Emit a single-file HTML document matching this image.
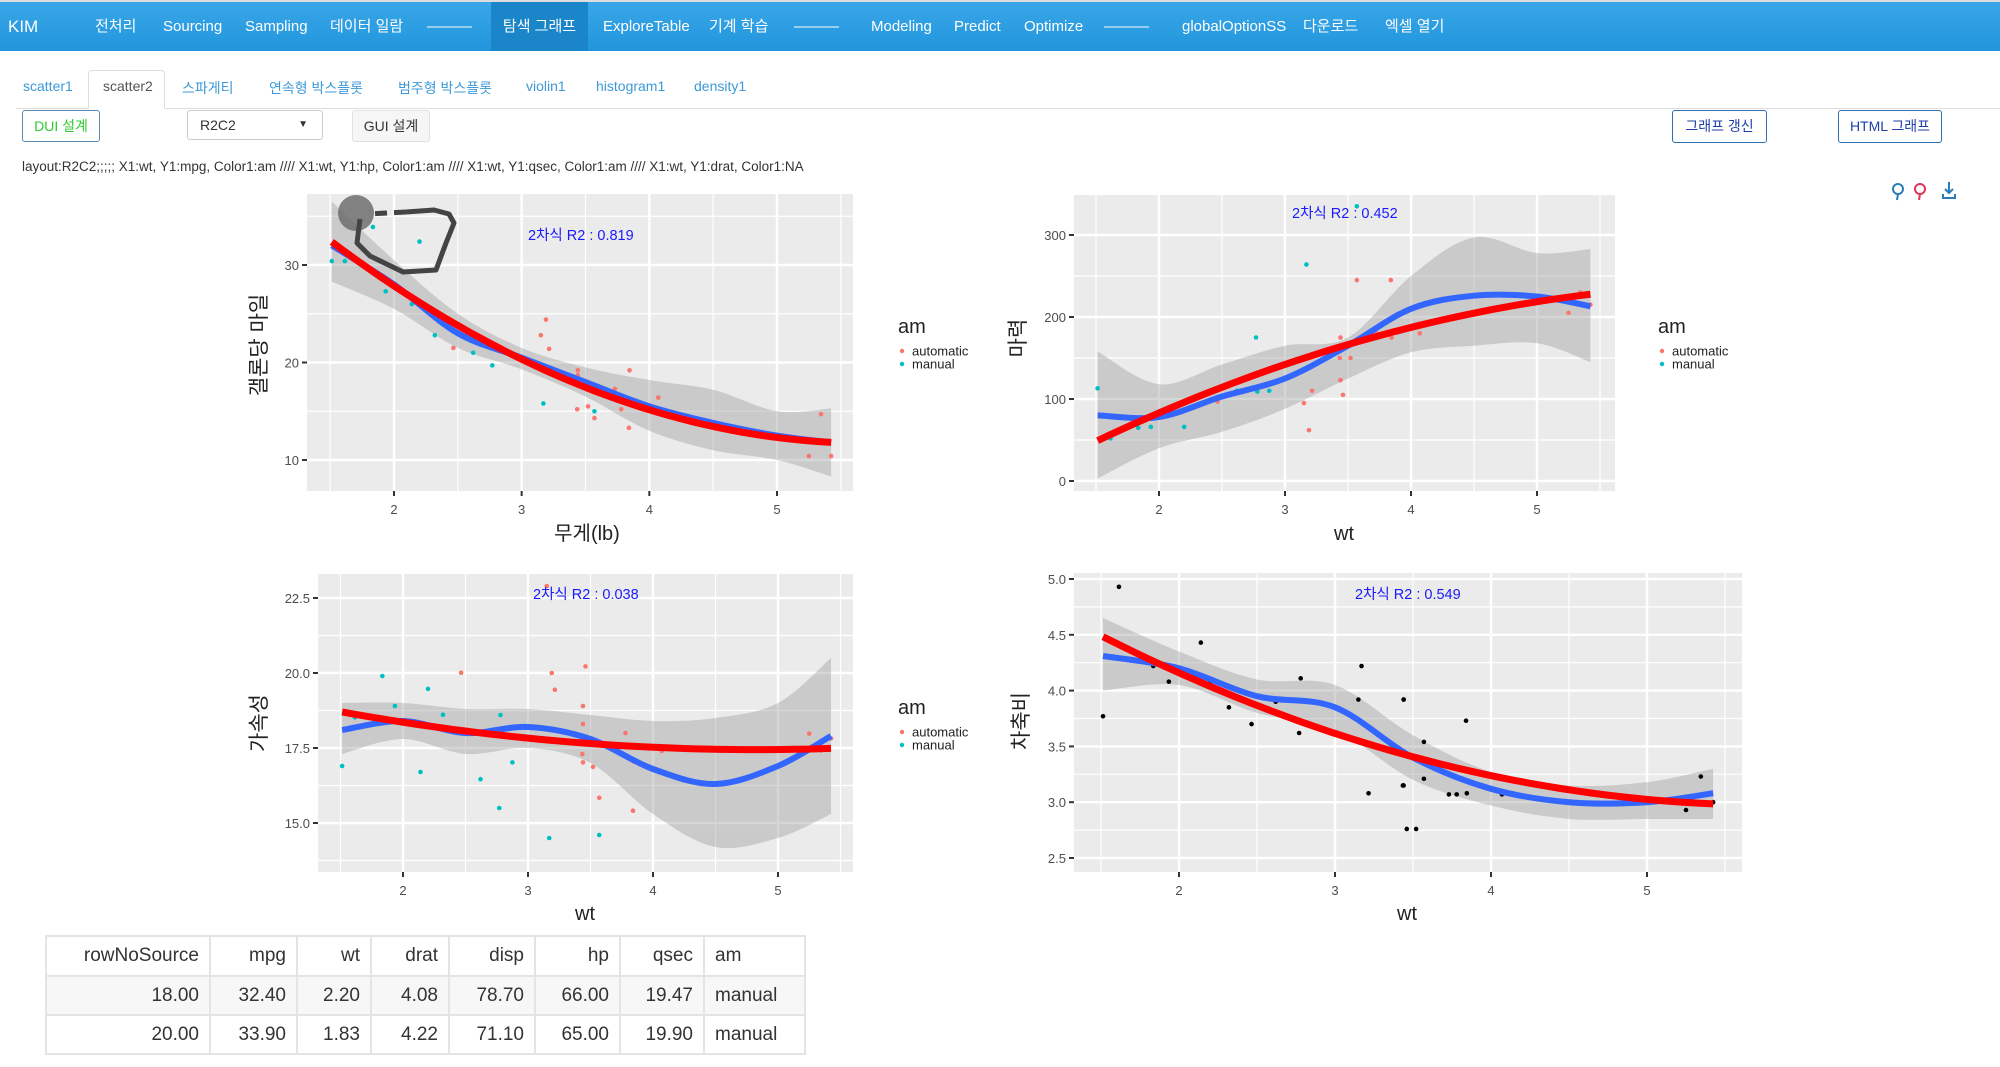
<!DOCTYPE html>
<html><head><meta charset="utf-8">
<style>
body{margin:0;width:2000px;height:1067px;overflow:hidden;background:#fff;font-family:"Liberation Sans","Noto Sans CJK KR",sans-serif;position:relative}
.abs{position:absolute}
#nav{left:0;top:0;width:2000px;height:51px;background:linear-gradient(#3aa6e8,#2196dc);border-top:2px solid #ddd;box-sizing:border-box}
.ni{position:absolute;top:0;height:49px;line-height:49px;color:#fff;font-size:15px;white-space:nowrap}
.tab{position:absolute;top:78px;font-size:14px;color:#3c9ad8;white-space:nowrap}
.btn{position:absolute;box-sizing:border-box;border:1px solid #ccc;border-radius:3px;background:#fff;font-size:14px;text-align:center}
table{border-collapse:collapse;font-size:19px;color:#333;table-layout:fixed;width:759px}
td,th{border:2px solid #e4e4e4;padding:0 10px;height:39px;font-weight:normal;text-align:right;box-sizing:border-box}
</style></head><body>
<div id="nav" class="abs">
<span class="ni" style="left:8px;font-size:17px">KIM</span>
<span class="ni" style="left:95px">전처리</span>
<span class="ni" style="left:163px">Sourcing</span>
<span class="ni" style="left:245px">Sampling</span>
<span class="ni" style="left:330px">데이터 일람</span>
<span class="ni" style="left:427px">———</span>
<span class="ni" style="left:491px;width:97px;background:#1a86c9;text-align:center">탐색 그래프</span>
<span class="ni" style="left:603px">ExploreTable</span>
<span class="ni" style="left:709px">기계 학습</span>
<span class="ni" style="left:794px">———</span>
<span class="ni" style="left:871px">Modeling</span>
<span class="ni" style="left:954px">Predict</span>
<span class="ni" style="left:1024px">Optimize</span>
<span class="ni" style="left:1104px">———</span>
<span class="ni" style="left:1182px">globalOptionSS</span>
<span class="ni" style="left:1303px">다운로드</span>
<span class="ni" style="left:1385px">엑셀 열기</span>
</div>
<div class="abs" style="left:16px;top:108px;width:1984px;border-top:1px solid #ddd"></div>
<div class="abs" style="left:88px;top:70px;width:77px;height:39px;border:1px solid #ddd;border-bottom:1px solid #fff;border-radius:4px 4px 0 0;background:#fff;box-sizing:border-box"></div>
<span class="tab" style="left:23px">scatter1</span>
<span class="tab" style="left:103px;color:#555">scatter2</span>
<span class="tab" style="left:182px">스파게티</span>
<span class="tab" style="left:269px">연속형 박스플롯</span>
<span class="tab" style="left:398px">범주형 박스플롯</span>
<span class="tab" style="left:526px">violin1</span>
<span class="tab" style="left:596px">histogram1</span>
<span class="tab" style="left:694px">density1</span>
<div class="btn" style="left:22px;top:110px;width:78px;height:32px;line-height:30px;color:#2ecc2e;border-color:#5b8ab5">DUI 설계</div>
<div class="btn" style="left:187px;top:110px;width:136px;height:30px;line-height:28px;text-align:left;padding-left:12px;color:#333">R2C2<span style="position:absolute;right:14px;font-size:10px">▼</span></div>
<div class="btn" style="left:352px;top:110px;width:78px;height:32px;line-height:30px;color:#333;background:#f6f6f6;border-color:#e2e2e2">GUI 설계</div>
<div class="btn" style="left:1672px;top:110px;width:95px;height:33px;line-height:31px;color:#1f3fa8;border-color:#2d6fb0">그래프 갱신</div>
<div class="btn" style="left:1838px;top:110px;width:104px;height:33px;line-height:31px;color:#1f3fa8;border-color:#2d6fb0">HTML 그래프</div>
<div class="abs" style="left:22px;top:159px;font-size:13.5px;color:#333;white-space:nowrap">layout:R2C2;;;;; X1:wt, Y1:mpg, Color1:am //// X1:wt, Y1:hp, Color1:am //// X1:wt, Y1:qsec, Color1:am //// X1:wt, Y1:drat, Color1:NA</div>
<svg class="abs" style="left:1888px;top:180px" width="80" height="24">
<g fill="none" stroke="#2a7db8" stroke-width="2"><circle cx="10" cy="9" r="5"/><line x1="10" y1="14" x2="9" y2="20"/></g>
<g fill="none" stroke="#e0365a" stroke-width="2"><circle cx="32" cy="9" r="5"/><line x1="32" y1="14" x2="31" y2="20"/></g>
<g fill="none" stroke="#2a7db8" stroke-width="2"><line x1="61" y1="2" x2="61" y2="13"/><polyline points="57,9 61,13 65,9"/><polyline points="55,14 55,18 67,18 67,14"/></g>
</svg>
<svg id="charts" class="abs" style="left:0;top:0" width="2000" height="1067"></svg>
<table class="abs" style="left:45px;top:935px">
<colgroup><col style="width:164px"><col style="width:87px"><col style="width:74px"><col style="width:78px"><col style="width:86px"><col style="width:85px"><col style="width:84px"><col style="width:101px"></colgroup>
<tr style="height:40px"><th>rowNoSource</th><th>mpg</th><th>wt</th><th>drat</th><th>disp</th><th>hp</th><th>qsec</th><th style="text-align:left">am</th></tr>
<tr style="background:#f7f7f7"><td>18.00</td><td>32.40</td><td>2.20</td><td>4.08</td><td>78.70</td><td>66.00</td><td>19.47</td><td style="text-align:left">manual</td></tr>
<tr><td>20.00</td><td>33.90</td><td>1.83</td><td>4.22</td><td>71.10</td><td>65.00</td><td>19.90</td><td style="text-align:left">manual</td></tr>
</table>
<script>
const wt=[2.62,2.875,2.32,3.215,3.44,3.46,3.57,3.19,3.15,3.44,3.44,4.07,3.73,3.78,5.25,5.424,5.345,2.2,1.615,1.835,2.465,3.52,3.435,3.84,3.845,1.935,2.14,1.513,3.17,2.77,3.57,2.78];
const mpg=[21,21,22.8,21.4,18.7,18.1,14.3,24.4,22.8,19.2,17.8,16.4,17.3,15.2,10.4,10.4,14.7,32.4,30.4,33.9,21.5,15.5,15.2,13.3,19.2,27.3,26,30.4,15.8,19.7,15,21.4];
const hp=[110,110,93,110,175,105,245,62,95,123,123,180,180,180,205,215,230,66,52,65,97,150,150,245,175,66,91,113,264,175,335,109];
const qsec=[16.46,17.02,18.61,19.44,17.02,20.22,15.84,20,22.9,18.3,18.9,17.4,17.6,18,17.98,17.82,17.42,19.47,18.52,19.9,20.01,16.87,17.3,15.41,17.05,18.9,16.7,16.9,14.5,15.5,14.6,18.6];
const drat=[3.9,3.9,3.85,3.08,3.15,2.76,3.21,3.69,3.92,3.92,3.92,3.07,3.07,3.07,2.93,3,3.23,4.08,4.93,4.22,3.7,2.76,3.15,3.73,3.08,4.08,4.43,3.77,4.22,3.62,3.54,4.11];
const am=[1,1,1,0,0,0,0,0,0,0,0,0,0,0,0,0,0,1,1,1,0,0,0,0,0,1,1,1,1,1,1,1];
const smoothX=[1.513,2,2.5,3,3.5,4,4.5,5,5.424];
const mpgLoess=[32,28,23,20.5,18,15.5,13.8,12.5,11.8];
const mpgLo=[28.3,25.5,21.5,19.3,16.5,13,11,10,8.3];
const mpgHi=[36.5,30.5,25,21.5,19.5,18.2,17.2,15,15.3];
const hpLoess=[80,78,103,125,165,210,226,225,213];
const hpLo=[3,40,60,88,125,157,165,168,145];
const hpHi=[158,118,142,165,175,250,297,278,283];
const qsecLoess=[18.1,18.4,18.0,18.2,17.8,16.8,16.3,16.9,17.9];
const qsecLo=[17.3,17.8,17.3,17.5,17.0,15.3,14.2,14.5,15.3];
const qsecHi=[19.0,19.0,18.8,18.8,18.6,18.4,18.5,19.0,20.5];
const dratLoess=[4.31,4.2,3.95,3.85,3.4,3.12,3.0,3.0,3.08];
const dratLo=[4.0,4.05,3.8,3.65,3.2,2.97,2.85,2.85,2.85];
const dratHi=[4.65,4.35,4.1,4.05,3.6,3.27,3.15,3.18,3.3];
const xTicks=[2,3,4,5];
const mpgTicks=[10,20,30], hpTicks=[0,100,200,300], qsecTicks=[15,17.5,20,22.5], dratTicks=[2.5,3,3.5,4,4.5,5];
const r2Labels=["2차식 R2 : 0.819","2차식 R2 : 0.452","2차식 R2 : 0.038","2차식 R2 : 0.549"];

const NS="http://www.w3.org/2000/svg";
const svg=document.getElementById('charts');
function el(tag,attrs,parent,text){const e=document.createElementNS(NS,tag);for(const k in attrs)e.setAttribute(k,attrs[k]);if(text!==undefined)e.textContent=text;(parent||svg).appendChild(e);return e;}
function lin(v1,p1,v2,p2){return v=>p1+(v-v1)*(p2-p1)/(v2-v1);}
function catmull(pts){let d='M'+pts[0][0]+','+pts[0][1];for(let i=0;i<pts.length-1;i++){const p0=pts[Math.max(0,i-1)],p1=pts[i],p2=pts[i+1],p3=pts[Math.min(pts.length-1,i+2)];d+=' C'+(p1[0]+(p2[0]-p0[0])/6)+','+(p1[1]+(p2[1]-p0[1])/6)+' '+(p2[0]-(p3[0]-p1[0])/6)+','+(p2[1]-(p3[1]-p1[1])/6)+' '+p2[0]+','+p2[1];}return d;}
function quadFit(x,y){let S=[0,0,0,0,0],T=[0,0,0];for(let i=0;i<x.length;i++){let p=1;for(let k=0;k<5;k++){S[k]+=p;if(k<3)T[k]+=p*y[i];p*=x[i];}}
 const A=[[S[0],S[1],S[2],T[0]],[S[1],S[2],S[3],T[1]],[S[2],S[3],S[4],T[2]]];
 for(let c=0;c<3;c++){for(let r=c+1;r<3;r++){const f=A[r][c]/A[c][c];for(let k=c;k<4;k++)A[r][k]-=f*A[c][k];}}
 const b=[0,0,0];for(let r=2;r>=0;r--){let s=A[r][3];for(let k=r+1;k<3;k++)s-=A[r][k]*b[k];b[r]=s/A[r][r];}return b;}

function panel(c){
 const g=el('g',{});
 
 
 const X=lin(c.xs[0],c.xs[1],c.xs[2],c.xs[3]),Y=lin(c.ys[0],c.ys[1],c.ys[2],c.ys[3]);
 const r=el('rect',{x:c.rect[0],y:c.rect[1],width:c.rect[2]-c.rect[0],height:c.rect[3]-c.rect[1],fill:'#EBEBEB'},g);
 
 const yStep=c.yt[1]-c.yt[0];
 for(let v=c.yt[0]-yStep*2;v<=c.yt[c.yt.length-1]+yStep*2;v+=yStep/2){const p=Y(v);if(p<c.rect[1]||p>c.rect[3])continue;const major=c.yt.some(t=>Math.abs(t-v)<1e-9);el('line',{x1:c.rect[0],x2:c.rect[2],y1:p,y2:p,stroke:'#fff','stroke-width':major?2.4:1.2},g);}
 for(let v=0.5;v<=7;v+=0.5){const p=X(v);if(p<c.rect[0]||p>c.rect[2])continue;const major=Number.isInteger(v);el('line',{y1:c.rect[1],y2:c.rect[3],x1:p,x2:p,stroke:'#fff','stroke-width':major?2.4:1.2},g);}
 xTicks.forEach(t=>{const p=X(t);el('line',{x1:p,x2:p,y1:c.rect[3],y2:c.rect[3]+5,stroke:'#333','stroke-width':2},g);const tl=el('text',{x:p,y:c.rect[3]+23,'text-anchor':'middle','font-size':13,fill:'#4d4d4d'},g,String(t));});
 c.yt.forEach(t=>{const p=Y(t);el('line',{x1:c.rect[0]-5,x2:c.rect[0],y1:p,y2:p,stroke:'#333','stroke-width':2},g);const tl=el('text',{x:c.rect[0]-8,y:p+5,'text-anchor':'end','font-size':13,fill:'#4d4d4d'},g,c.fmt?t.toFixed(1):String(t));});
 const hiPts=smoothX.map((x,i)=>[X(x),Y(c.hi[i])]),loPts=smoothX.map((x,i)=>[X(x),Y(c.lo[i])]).reverse();
 const band=el('path',{d:catmull(hiPts)+' L'+catmull(loPts).slice(1)+' Z',fill:'#999','fill-opacity':0.4},g);
 
 c.y.forEach((v,i)=>{const d=el('circle',{cx:X(wt[i]),cy:Y(v),r:2.3,fill:c.colored?(am[i]?'#00BFC4':'#F8766D'):'#000'},g);});
 const lo=el('path',{d:catmull(smoothX.map((x,i)=>[X(x),Y(c.loess[i])])),fill:'none',stroke:'#3366FF','stroke-width':6},g);
 
 const b=quadFit(wt,c.y);const mn=Math.min(...wt),mx=Math.max(...wt);let pts=[];for(let k=0;k<=40;k++){const x=mn+(mx-mn)*k/40;pts.push([X(x),Y(b[0]+b[1]*x+b[2]*x*x)]);}
 const q=el('polyline',{points:pts.map(p=>p.join(',')).join(' '),fill:'none',stroke:'#FF0000','stroke-width':7},g);
 
 const rt=el('text',{x:c.r2[0],y:c.r2[1],'font-size':14.5,fill:'#1a1aff'},g,c.r2t);
 const xl=el('text',{x:c.xl[0],y:c.xl[1],'text-anchor':'middle','font-size':20,fill:'#222'},g,c.xlab);
 const yl=el('text',{x:c.yl[0],y:c.yl[1],'text-anchor':'middle','font-size':21,fill:'#222',transform:'rotate(-90 '+c.yl[0]+' '+c.yl[1]+')'},g,c.ylab);
 if(c.leg){const lg=el('g',{},g);
  el('text',{x:c.leg[0],y:c.leg[1],'font-size':20,fill:'#222'},lg,'am');
  [['automatic','#F8766D'],['manual','#00BFC4']].forEach((e,i)=>{const y=c.leg[1]+18+i*13;const en=el('g',{},lg);el('circle',{cx:c.leg[0]+4,cy:y,r:2.2,fill:e[1]},en);el('text',{x:c.leg[0]+14,y:y+4.5,'font-size':13,fill:'#222'},en,e[0]);});}
 return g;
}
panel({name:'chart-mpg-vs-wt',rect:[307,194,853,491],xs:[2,394,5,777],ys:[10,460,30,265],yt:mpgTicks,y:mpg,loess:mpgLoess,lo:mpgLo,hi:mpgHi,colored:true,r2:[528,240],r2t:r2Labels[0],xl:[587,540],xlab:'무게(lb)',yl:[266,345],ylab:'갤론당 마일',leg:[898,333]});
panel({name:'chart-hp-vs-wt',rect:[1074,195,1615,491],xs:[2,1159,5,1537],ys:[0,481,300,235],yt:hpTicks,y:hp,loess:hpLoess,lo:hpLo,hi:hpHi,colored:true,r2:[1292,218],r2t:r2Labels[1],xl:[1344,540],xlab:'wt',yl:[1025,338],ylab:'마력',leg:[1658,333]});
panel({name:'chart-qsec-vs-wt',rect:[318,574,853,872],xs:[2,403,5,778],ys:[15,823,22.5,598],yt:qsecTicks,fmt:true,y:qsec,loess:qsecLoess,lo:qsecLo,hi:qsecHi,colored:true,r2:[533,599],r2t:r2Labels[2],xl:[585,920],xlab:'wt',yl:[266,723],ylab:'가속성',leg:[898,714]});
panel({name:'chart-drat-vs-wt',rect:[1074,573,1742,872],xs:[2,1179,5,1647],ys:[2.5,858,5,579],yt:dratTicks,fmt:true,y:drat,loess:dratLoess,lo:dratLo,hi:dratHi,colored:false,r2:[1355,599],r2t:r2Labels[3],xl:[1407,920],xlab:'wt',yl:[1028,721],ylab:'차축비',leg:null});
const ann=el('g',{});


el('circle',{cx:356,cy:213,r:18,fill:'#666','fill-opacity':0.8},ann);
el('path',{d:'M360,219 L357,243 L370,256 L403,272 L436,270 L446,243 L454,223 L449,214 L434,210 L406,212',fill:'none',stroke:'#444','stroke-width':5,'stroke-linejoin':'round'},ann);
el('path',{d:'M406,212 L368,214',fill:'none',stroke:'#444','stroke-width':5,'stroke-dasharray':'12,7'},ann);
</script>
</body></html>
